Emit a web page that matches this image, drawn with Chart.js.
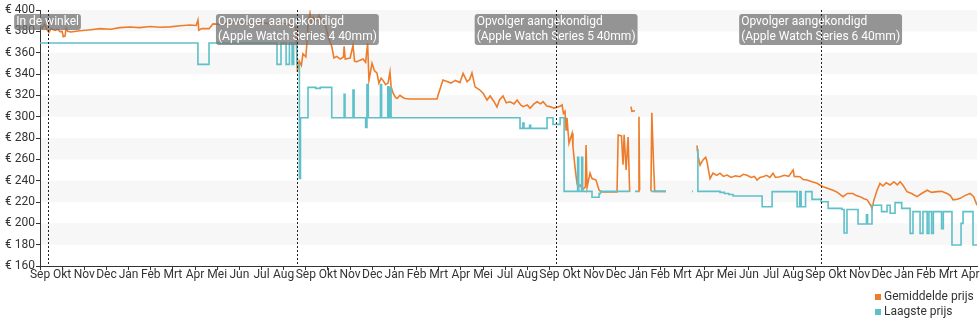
<!DOCTYPE html>
<html>
<head>
<meta charset="utf-8">
<script src="https://cdn.jsdelivr.net/npm/chart.js@4.4.1/dist/chart.umd.min.js"></script>
<style>
  html, body { margin: 0; padding: 0; background: #fff; }
  #wrap { position: relative; width: 980px; height: 325px; }
  #legend { position: absolute; left: 875px; top: 289px; font: 12px Roboto, sans-serif; color: #333; line-height: 15px; white-space: nowrap; }
  #legend .sw { display: inline-block; width: 6px; height: 6px; margin-right: 3px; }
</style>
</head>
<body>
<div id="wrap">
  <canvas id="prijsChart" width="980" height="325"></canvas>
  <div id="legend">
    <div><span class="sw" style="background:#ee7d2b"></span>Gemiddelde prijs</div>
    <div><span class="sw" style="background:#5ec0c9"></span>Laagste prijs</div>
  </div>
</div>
<script>
// Maandlabels op de x-as (juni 2019 ontbreekt in de reeks)
const maanden = ['Sep','Okt','Nov','Dec','Jan','Feb','Mrt','Apr','Mei','Jun','Jul','Aug',
                 'Sep','Okt','Nov','Dec','Jan','Feb','Mrt','Apr','Mei','Jul','Aug',
                 'Sep','Okt','Nov','Dec','Jan','Feb','Mrt','Apr','Mei','Jun','Jul','Aug',
                 'Sep','Okt','Nov','Dec','Jan','Feb','Mrt','Apr'];

// Prijsticks links
const prijsTicks = [160, 180, 200, 220, 240, 260, 280, 300, 320, 340, 360, 380, 400];

// Gebeurtenissen: positie in maanden vanaf de start, met tekstregels
const gebeurtenissen = [
    { at: 0.34, tekst: ['In de winkel'] },
    { at: 11.62, tekst: ['Opvolger aangekondigd', '(Apple Watch Series 4 40mm)'] },
    { at: 23.30, tekst: ['Opvolger aangekondigd', '(Apple Watch Series 5 40mm)'] },
    { at: 35.24, tekst: ['Opvolger aangekondigd', '(Apple Watch Series 6 40mm)'] }
];

// Gemiddelde prijs: [maand, euro], null = geen data
const gemiddeldePrijs = [
    [0, 386], [0.10, 383], [0.20, 387], [0.30, 382], [0.40, 379], [0.50, 382.5], [0.68, 381], [0.80, 382],
    [0.90, 379.7], [1.00, 380], [1.05, 375], [1.13, 375.5], [1.18, 383], [1.25, 380], [1.40, 379.4],
    [1.80, 380.5], [2.30, 381.5], [2.71, 382.5], [3.20, 382], [3.60, 383.5], [4.06, 384], [4.50, 383.5],
    [4.97, 384.5], [5.40, 383.8], [5.87, 384.2], [6.32, 385.3], [6.77, 386], [7.05, 385.5], [7.13, 390.6],
    [7.17, 381], [7.30, 382.5], [7.63, 382.5], [7.81, 387], [8.13, 386.5], [8.60, 388], [9.03, 389],
    [9.50, 387.5], [9.93, 388.5], [10.40, 387], [10.90, 388], [11.30, 386], [11.55, 384], [11.62, 342],
    [11.70, 352], [11.80, 348], [11.87, 359], [12.00, 356], [12.05, 369], [12.10, 386], [12.19, 397],
    [12.25, 388], [12.33, 393], [12.45, 389], [12.60, 395], [12.78, 388], [12.90, 385], [13.05, 372],
    [13.17, 366], [13.27, 355], [13.40, 356.5], [13.55, 354], [13.70, 356], [13.73, 366], [13.78, 354],
    [14.00, 355], [14.13, 367], [14.20, 352], [14.31, 351.6], [14.45, 353], [14.58, 354], [14.70, 351],
    [14.79, 369], [14.85, 334], [14.99, 350], [15.10, 343], [15.21, 341], [15.30, 331.5], [15.40, 336],
    [15.49, 334], [15.60, 330], [15.71, 331.5], [15.80, 342], [15.85, 328], [15.94, 322], [16.05, 318],
    [16.12, 317], [16.25, 320], [16.38, 318], [16.48, 317], [16.70, 316.6], [17.92, 316.6], [17.97, 320],
    [18.19, 334.4], [18.38, 333], [18.55, 331.5], [18.75, 334], [18.96, 332], [19.10, 340.6], [19.28, 332.8],
    [19.40, 335], [19.50, 341], [19.64, 328], [19.86, 325], [20.00, 322], [20.18, 315.6], [20.32, 319.4],
    [20.50, 314], [20.63, 309], [20.75, 316], [20.90, 319.4], [21.05, 313], [21.22, 314], [21.40, 312],
    [21.54, 315.6], [21.70, 311], [21.81, 309.4], [22.00, 311], [22.12, 307.8], [22.30, 312], [22.44, 314],
    [22.60, 312], [22.71, 314], [22.88, 310], [23.03, 309.4], [23.20, 308], [23.34, 308.8], [23.50, 310],
    [23.57, 311], [23.63, 303], [23.70, 305], [23.75, 287.5], [23.79, 299], [23.88, 275], [24.02, 284.4],
    [24.06, 272], [24.15, 253], [24.24, 237.8], [24.29, 234], [24.38, 236], [24.50, 232], [24.62, 234],
    [24.65, 273.4], [24.70, 234], [24.83, 247], [24.92, 242], [25.10, 240.6], [25.24, 231], [25.37, 229.5],
    [26.05, 229.5], [26.10, 282.8], [26.25, 282], [26.32, 255], [26.37, 283], [26.46, 250], [26.55, 281],
    [26.62, 229.5], [26.64, null], [26.68, 309.4], [26.72, 305], [26.86, 305.5], [26.88, null],
    [27.00, 230], [27.04, 300], [27.07, 231], [27.09, null], [27.58, 230], [27.62, 303.7], [27.70, 255],
    [27.75, 230], [28.26, 230], [28.28, null], [29.66, 273], [29.71, 262.5], [29.80, 254.7], [29.93, 259.4],
    [30.05, 262], [30.11, 258], [30.16, 252], [30.25, 242], [30.38, 247], [30.55, 245], [30.70, 247],
    [30.85, 244], [31.02, 245.3], [31.20, 243], [31.40, 244.5], [31.60, 243.75], [31.75, 246], [31.92, 245],
    [32.10, 243], [32.25, 244], [32.37, 240.6], [32.50, 243], [32.64, 243.75], [32.80, 245], [32.95, 243],
    [33.09, 247], [33.20, 243], [33.41, 243.75], [33.60, 245], [33.80, 244], [34.00, 250], [34.05, 244],
    [34.31, 243.75], [34.45, 241], [34.63, 240.6], [34.85, 239], [35.08, 237.5], [35.20, 236], [35.35, 234.4],
    [35.55, 233], [35.80, 231], [36.00, 229], [36.25, 225], [36.45, 228], [36.70, 228], [36.85, 226],
    [37.02, 225], [37.20, 223], [37.34, 222], [37.50, 217], [37.56, 214], [37.65, 222], [37.79, 231],
    [37.92, 237.5], [38.05, 235], [38.20, 238], [38.38, 236], [38.55, 239], [38.70, 236], [38.83, 239],
    [38.95, 236], [39.14, 229.7], [39.35, 228], [39.59, 225], [39.80, 228], [40.05, 231], [40.25, 229],
    [40.50, 229.7], [40.70, 230], [40.95, 228], [41.10, 226], [41.22, 222], [41.40, 222.5], [41.54, 223.4],
    [41.75, 226], [41.99, 228], [42.15, 225], [42.30, 217]
];

// Laagste prijs (trapsgewijs): [maand, euro], null = geen data
const laagstePrijs = [
    [0, 369], [7.13, 349], [7.63, 369], [10.70, 349], [10.88, 369], [11.11, 349], [11.26, 369], [11.38, 349],
    [11.45, 369], [11.60, 349], [11.71, 242], [11.76, 299], [12.10, 327.5], [12.45, 326.5], [12.65, 327.5],
    [13.17, 299], [13.73, 321], [13.77, 299], [14.13, 325], [14.18, 299], [14.70, 290], [14.76, 330],
    [14.82, 299], [15.37, 330], [15.42, 299], [15.70, 328], [15.75, 299], [15.80, 327], [15.85, 299],
    [21.67, 289], [21.80, 294], [21.85, 289], [22.10, 292], [22.15, 289], [22.89, 299], [23.16, 292.8],
    [23.48, 299], [23.66, 230], [24.27, 262], [24.32, 230], [24.45, 262], [24.50, 230], [24.92, 224.4],
    [25.24, 228], [25.30, 230], [26.64, 230], [26.66, null], [26.86, 230], [27.00, 230], [27.02, null],
    [27.59, 230], [28.26, 230], [28.28, null], [29.44, 230], [29.48, 230], [29.50, null], [29.64, 269],
    [29.70, 230], [30.70, 229], [30.90, 228], [31.10, 227], [31.29, 225.6], [32.60, 215.6], [33.05, 229.7],
    [34.18, 215.6], [34.30, 229.7], [34.36, 215.6], [34.56, 229.7], [34.85, 222.5], [35.26, 220.3],
    [35.58, 214], [36.20, 213], [36.30, 191], [36.43, 213], [36.93, 199.4], [37.31, 208], [37.36, 199.4],
    [37.56, 217], [37.99, 211], [38.24, 217], [38.38, 209.4], [38.60, 219.4], [38.90, 214], [39.28, 190.6],
    [39.41, 211], [39.73, 190.6], [39.86, 211], [40.05, 190.6], [40.13, 211], [40.25, 190.6], [40.33, 211],
    [40.70, 195], [40.78, 211], [41.17, 179.7], [41.58, 200], [41.67, 211], [42.12, 179.7], [42.30, 179.7]
];

const kleuren = { gemiddeld: '#ee7d2b', laagste: '#5ec0c9', tekst: '#333333' };
const FONT = 'Roboto, sans-serif';

// Lichtgrijze banden achter de grafiek
const bandenPlugin = {
    id: 'banden',
    beforeDraw(chart) {
        const { ctx, chartArea, scales: { y } } = chart;
        ctx.save();
        ctx.fillStyle = '#f7f7f7';
        for (let v = 180; v < 400; v += 40) {
            const top = y.getPixelForValue(v + 20);
            const bottom = y.getPixelForValue(v);
            ctx.fillRect(chartArea.left, top, chartArea.right - chartArea.left, bottom - top);
        }
        ctx.restore();
    }
};

// Stippellijnen en labels voor de gebeurtenissen
const gebeurtenisPlugin = {
    id: 'gebeurtenissen',
    afterDatasetsDraw(chart) {
        const { ctx, chartArea, scales: { x } } = chart;
        ctx.save();
        ctx.font = '12px ' + FONT;
        gebeurtenissen.forEach(g => {
            const px = x.getPixelForValue(g.at);
            const breedte = Math.max(...g.tekst.map(t => ctx.measureText(t).width)) + 4;
            const hoogte = g.tekst.length * 15 + 1;
            const bx = px - breedte / 2;
            const by = 14;
            ctx.fillStyle = 'rgba(115, 115, 115, 0.75)';
            ctx.beginPath();
            ctx.roundRect(bx, by, breedte, hoogte, 3);
            ctx.fill();
            ctx.fillStyle = '#ffffff';
            ctx.textBaseline = 'alphabetic';
            g.tekst.forEach((t, i) => ctx.fillText(t, bx + 2, by + 11 + i * 15));

            const lx = Math.round(px) + 0.5;
            ctx.strokeStyle = '#222';
            ctx.lineWidth = 1;
            ctx.setLineDash([2, 2]);
            ctx.beginPath();
            ctx.moveTo(lx, chartArea.top);
            ctx.lineTo(lx, chartArea.bottom);
            ctx.stroke();
            ctx.setLineDash([]);
        });
        ctx.restore();
    }
};

const naarPunten = reeks => reeks.map(([x, y]) => ({ x, y }));

new Chart(document.getElementById('prijsChart'), {
    type: 'line',
    data: {
        datasets: [
            {
                label: 'Gemiddelde prijs',
                data: naarPunten(gemiddeldePrijs),
                borderColor: kleuren.gemiddeld,
                borderWidth: 1.6,
                pointRadius: 0,
                tension: 0,
                order: 1
            },
            {
                label: 'Laagste prijs',
                data: naarPunten(laagstePrijs),
                borderColor: kleuren.laagste,
                borderWidth: 1.6,
                pointRadius: 0,
                stepped: true,
                order: 0
            }
        ]
    },
    options: {
        responsive: false,
        animation: false,
        devicePixelRatio: 1,
        layout: { padding: { top: 10, right: 3, left: 0, bottom: 0 } },
        plugins: {
            legend: { display: false },
            tooltip: { enabled: false }
        },
        scales: {
            x: {
                type: 'linear',
                min: 0,
                max: 42.3,
                afterBuildTicks: scale => { scale.ticks = maanden.map((_, i) => ({ value: i })); },
                afterFit: scale => { scale.height = 59; },
                grid: { drawOnChartArea: false, tickLength: 4, color: kleuren.tekst },
                border: { color: kleuren.tekst, width: 1 },
                ticks: {
                    autoSkip: false,
                    maxRotation: 0,
                    padding: -2,
                    color: kleuren.tekst,
                    font: { family: FONT, size: 12 },
                    callback: v => maanden[v] ?? ''
                }
            },
            y: {
                min: 160,
                max: 400,
                afterBuildTicks: scale => { scale.ticks = prijsTicks.map(v => ({ value: v })); },
                afterFit: scale => { scale.width = 40; },
                grid: { drawOnChartArea: false, tickLength: 4, color: kleuren.tekst },
                border: { color: kleuren.tekst, width: 1 },
                ticks: {
                    padding: 1,
                    color: kleuren.tekst,
                    font: { family: FONT, size: 12 },
                    callback: v => '€ ' + v
                }
            }
        }
    },
    plugins: [bandenPlugin, gebeurtenisPlugin]
});
</script>
</body>
</html>
